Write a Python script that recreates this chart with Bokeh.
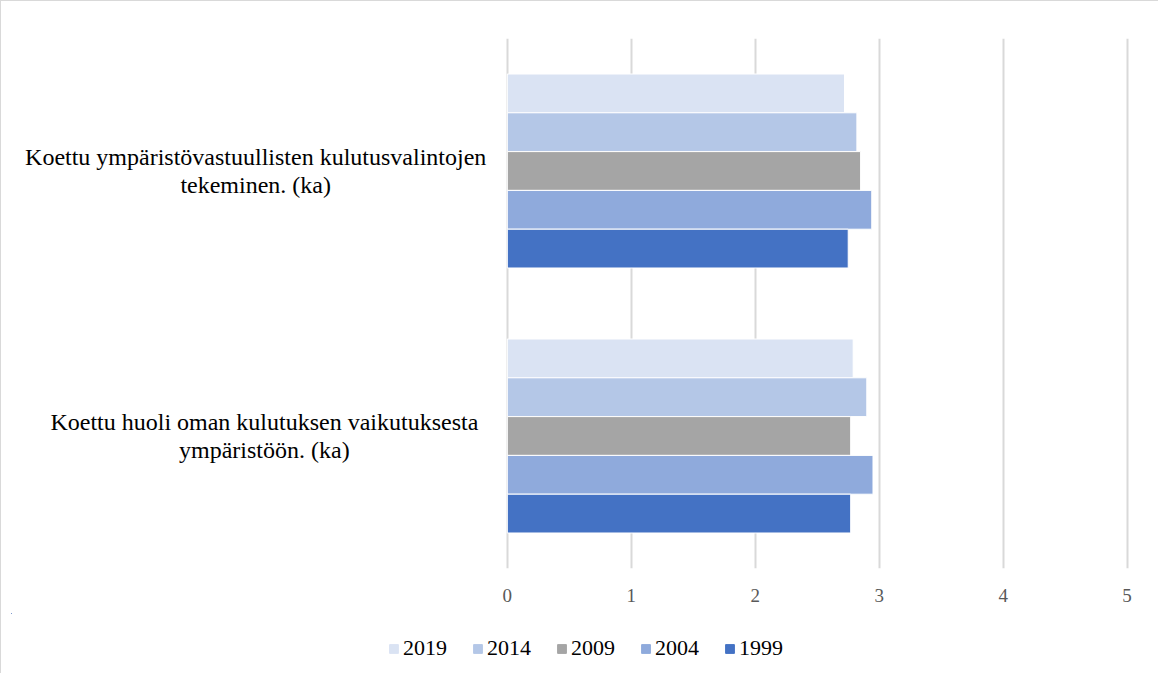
from bokeh.plotting import figure
from bokeh.layouts import column
from bokeh.models import ColumnDataSource, FactorRange, FixedTicker, Legend, LegendItem
from bokeh.transform import dodge
from bokeh.core.properties import value
from bokeh.embed import file_html
from bokeh.resources import INLINE

categories = [
    "Koettu ympäristövastuullisten kulutusvalintojen\ntekeminen. (ka)",
    "Koettu huoli oman kulutuksen vaikutuksesta\nympäristöön. (ka)",
]
years = ["2019", "2014", "2009", "2004", "1999"]
v2019 = [2.72, 2.79]
v2014 = [2.82, 2.90]
v2009 = [2.85, 2.77]
v2004 = [2.94, 2.95]
v1999 = [2.75, 2.77]
x_ticks = [0, 1, 2, 3, 4, 5]

colors = ["#dae3f3", "#b4c7e7", "#a5a5a5", "#8faadc", "#4472c4"]
series = [v2019, v2014, v2009, v2004, v1999]

data = {"cat": categories}
for y, s in zip(years, series):
    data["y" + y] = s
source = ColumnDataSource(data)

FONT = "Liberation Serif"
FIG_W = 1157

p = figure(
    y_range=FactorRange(factors=list(reversed(categories))),
    x_range=(-4.0, 5.1),
    frame_width=1128, frame_height=530,
    min_border_left=10, min_border_right=19, min_border_top=37, min_border_bottom=45,
    output_backend="svg", toolbar_location=None,
)
p.outline_line_color = None
p.yaxis.visible = False
p.ygrid.grid_line_color = None
p.xgrid.ticker = FixedTicker(ticks=x_ticks)
p.xgrid.grid_line_color = "#d9d9d9"
p.xgrid.grid_line_width = 2
p.xaxis.ticker = FixedTicker(ticks=x_ticks)
p.xaxis.axis_line_color = None
p.xaxis.major_tick_line_color = None
p.xaxis.minor_tick_line_color = None
p.xaxis.major_tick_out = 0
p.xaxis.major_tick_in = 0
p.xaxis.minor_tick_out = 0
p.xaxis.minor_tick_in = 0
p.xaxis.major_label_standoff = 20
p.xaxis.major_label_text_font = FONT
p.xaxis.major_label_text_font_size = "19px"
p.xaxis.major_label_text_color = "#595959"

bar_h = 0.1464
offsets = [2 * bar_h, bar_h, 0.0, -bar_h, -2 * bar_h]
for y, c, off in zip(years, colors, offsets):
    p.hbar(y=dodge("cat", off, range=p.y_range), right="y" + y, left=0,
           height=bar_h, source=source, fill_color=c, line_color="white", line_width=1)

label_x = [-2.03, -1.96]
p.text(x=label_x, y=categories, text=categories, text_align="center", text_baseline="middle",
       text_font=value(FONT), text_font_size="24px", text_color="#000000", text_line_height=1.1)

# legend strip (its bars lie outside this strip's ranges; only the legend shows)
lg = figure(width=FIG_W, height=60, x_range=(0, 1), y_range=(0, 1),
            x_axis_type=None, y_axis_type=None, min_border=0,
            output_backend="svg", toolbar_location=None)
lg.outline_line_color = None
lg.grid.visible = False
items = []
for y, c in zip(years, colors):
    r = lg.hbar(y="y" + y, right=0, left=0, height=0.01, source=source,
                fill_color=c, line_color=c, line_width=1)
    items.append(LegendItem(label=y, renderers=[r]))

legend = Legend(items=items, orientation="horizontal", location=(377, 12))
legend.label_text_font = FONT
legend.label_text_font_size = "22px"
legend.label_text_color = "#000000"
legend.glyph_width = 11
legend.glyph_height = 11
legend.label_height = 20
legend.label_standoff = 4
legend.spacing = 25
legend.border_line_color = None
legend.background_fill_color = None
legend.margin = 0
legend.padding = 0
lg.add_layout(legend, "center")

layout = column(p, lg, spacing=0)
layout.styles = {"border-top": "1px solid #d9d9d9", "border-left": "1px solid #d9d9d9"}

open("out.html", "w").write(file_html(layout, INLINE))
